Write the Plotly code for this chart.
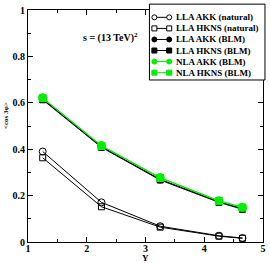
import plotly.graph_objects as go

# ---- data ----
Y = [1.25, 2.25, 3.25, 4.25, 4.65]
lla_akk_nat = [0.390, 0.171, 0.068, 0.027, 0.017]
lla_hkns_nat = [0.363, 0.152, 0.064, 0.025, 0.016]
lla_akk_blm = [0.616, 0.411, 0.270, 0.174, 0.144]
lla_hkns_blm = [0.613, 0.408, 0.267, 0.171, 0.141]
nla_akk_blm = [0.622, 0.416, 0.278, 0.178, 0.150]
nla_hkns_blm = [0.620, 0.414, 0.276, 0.176, 0.148]

x_ticks = [1, 2, 3, 4, 5]
x_ticklabels = ["1", "2", "3", "4", "5"]
y_ticks = [0, 0.2, 0.4, 0.6, 0.8, 1.0]
y_ticklabels = ["0", "0.2", "0.4", "0.6", "0.8", "1"]

names = ["LLA AKK (natural)", "LLA HKNS (natural)", "LLA AKK (BLM)",
         "LLA HKNS (BLM)", "NLA AKK (BLM)", "NLA HKNS (BLM)"]
series = [lla_akk_nat, lla_hkns_nat, lla_akk_blm, lla_hkns_blm, nla_akk_blm, nla_hkns_blm]
colors = ["black", "black", "black", "black", "#00ee00", "#00ee00"]
symbols = ["circle-open", "square-open", "circle", "square", "circle", "square"]
msizes = [7, 6, 7, 6, 8, 7]

W, H = 270, 263
L, R, T, B = 28, 4, 5, 21
PW, PH = W - L - R, H - T - B
FONT = "Liberation Serif"


def px2paper(px, py):
    return (px - L) / PW, (H - B - py) / PH


fig = go.Figure()
order = [1, 0, 3, 2, 5, 4]
for i in order:
    fig.add_trace(go.Scatter(
        x=Y, y=series[i], mode="lines+markers", name=names[i],
        line=dict(color=colors[i], width=1),
        marker=dict(symbol=symbols[i], size=msizes[i], color=colors[i],
                    line=dict(color=colors[i], width=1)),
        showlegend=False))

shapes = []
annotations = []

# legend box
x0, y0 = px2paper(151, 76.5)
x1, y1 = px2paper(268, -1)
shapes.append(dict(type="rect", xref="paper", yref="paper", x0=x0, x1=x1, y0=y0, y1=y1,
                   fillcolor="white", line=dict(color="black", width=1), layer="above"))
for k in range(6):
    py = 12.5 + 11.3 * k
    ax, ay = px2paper(156, py)
    bx, by = px2paper(171, py)
    shapes.append(dict(type="line", xref="paper", yref="paper", x0=ax, x1=bx, y0=ay, y1=ay,
                       line=dict(color=colors[k], width=1), layer="above"))
    filled = k >= 2
    r = 2.5
    for cx in (ax, bx):
        shapes.append(dict(
            type="circle" if k % 2 == 0 else "rect",
            xref="paper", yref="paper", xsizemode="pixel", ysizemode="pixel",
            xanchor=cx, yanchor=ay, x0=-r, x1=r, y0=-r, y1=r,
            fillcolor=colors[k] if filled else "white",
            line=dict(color=colors[k], width=1), layer="above"))
    tx, ty = px2paper(176, py)
    annotations.append(dict(xref="paper", yref="paper", x=tx, y=ty, text=names[k],
                            showarrow=False, xanchor="left", yanchor="middle",
                            font=dict(family=FONT, size=9, color="black", weight="bold")))

# energy label
ex, ey = px2paper(112, 33)
annotations.append(dict(xref="paper", yref="paper", x=ex, y=ey,
                        text="s = (13 TeV)<sup>2</sup>", showarrow=False,
                        xanchor="center", yanchor="middle",
                        font=dict(family=FONT, size=10, color="black", weight="bold")))
# y title
yx, yy = px2paper(5, 113)
annotations.append(dict(xref="paper", yref="paper", x=yx, y=yy, text="<cos 3φ>",
                        showarrow=False, textangle=-90, xanchor="center", yanchor="middle",
                        font=dict(family=FONT, size=7, color="black", weight="bold")))
# x title
xx, xy = px2paper(147, 258.5)
annotations.append(dict(xref="paper", yref="paper", x=xx, y=xy, text="Y",
                        showarrow=False, xanchor="center", yanchor="middle",
                        font=dict(family=FONT, size=9, color="black", weight="bold")))

axis_common = dict(showgrid=False, zeroline=False, showline=True, linecolor="black",
                   linewidth=1, mirror="ticks", ticks="inside", ticklen=5, tickwidth=1,
                   tickcolor="black", tickmode="array", ticklabeloverflow="allow",
                   tickfont=dict(family=FONT, size=10, color="black", weight="bold"))

fig.update_layout(
    width=W, height=H, margin=dict(l=L, r=R, t=T, b=B, pad=0),
    paper_bgcolor="white", plot_bgcolor="white",
    xaxis=dict(range=[1, 5], tickvals=x_ticks, ticktext=x_ticklabels, ticklabelstandoff=-3,
               minor=dict(dtick=0.5, ticks="inside", ticklen=3, tickcolor="black"),
               **axis_common),
    yaxis=dict(range=[0, 1], tickvals=y_ticks, ticktext=y_ticklabels,
               minor=dict(dtick=0.1, ticks="inside", ticklen=3, tickcolor="black"),
               **axis_common),
    shapes=shapes, annotations=annotations, showlegend=False,
)

fig.write_html("out.html", config={"displayModeBar": False},
               post_script="document.body.style.margin='0';document.body.style.overflow='hidden';")
